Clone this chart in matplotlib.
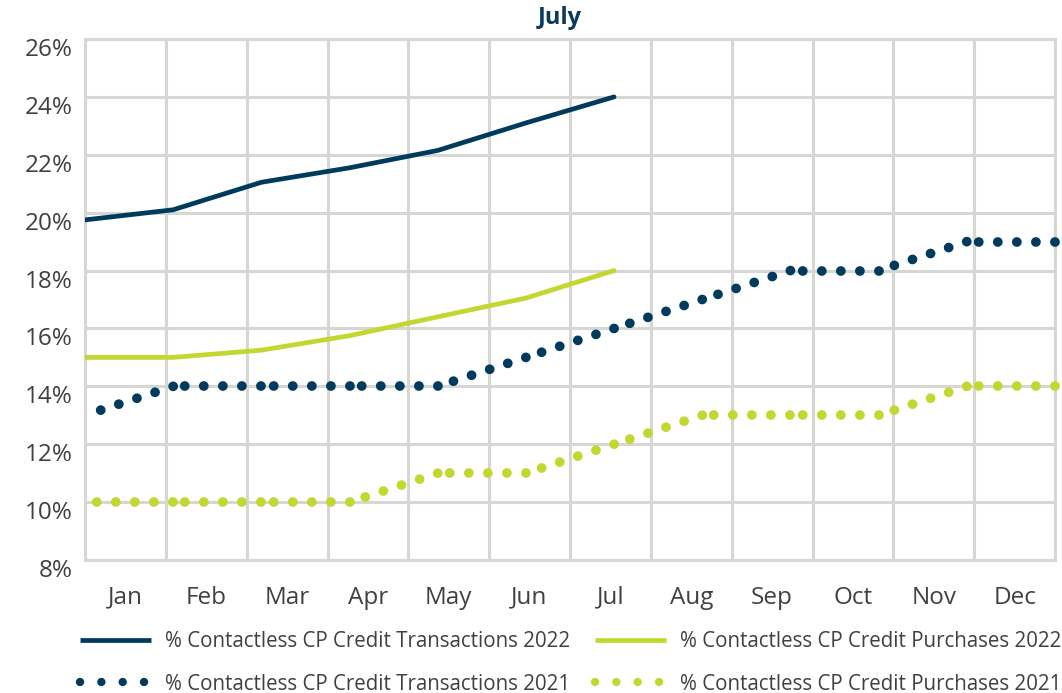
import numpy as np
import matplotlib.pyplot as plt
from matplotlib.lines import Line2D
from matplotlib import transforms

plt.rcParams['font.family'] = ['Open Sans', 'DejaVu Sans']

months = ['Jan', 'Feb', 'Mar', 'Apr', 'May', 'Jun', 'Jul', 'Aug', 'Sep', 'Oct', 'Nov', 'Dec']
trans_2022 = [19.75, 20.1, 21.05, 21.55, 22.15, 23.1, 24.0]
purch_2022 = [15.0, 15.0, 15.25, 15.75, 16.4, 17.05, 18.0]
trans_2021 = [13.0, 14.0, 14.0, 14.0, 14.0, 15.0, 16.0, 17.0, 18.0, 18.0, 19.0, 19.0]
purch_2021 = [10.0, 10.0, 10.0, 10.0, 11.0, 11.0, 12.0, 13.0, 13.0, 13.0, 14.0, 14.0]
yticks = np.arange(8, 27, 2)

navy = '#003a5d'
lime = '#c3d731'
grid_col = '#d6d6d2'
text_col = '#404040'


def xpos(vals):
    # series sit on a secondary "on tick marks" axis: 12 points over 12 categories
    return np.arange(len(vals)) * 12 / 11


def dotted(ax, vals, color):
    # excel restarts the dot pattern on each segment, ending on the point
    x = xpos(vals)
    for i in range(len(vals) - 1):
        ax.plot([x[i + 1], x[i]], [vals[i + 1], vals[i]], color=color, lw=7.0,
                linestyle=(0, (0.01, 1.95)), dash_capstyle='round',
                clip_on=False, zorder=3)


fig = plt.figure(figsize=(10.62, 6.93), dpi=100)
ax = fig.add_axes([85 / 1062, 1 - 560 / 693, 970 / 1062, 521 / 693])

ax.plot(xpos(trans_2022), trans_2022, color=navy, lw=3.4,
        solid_capstyle='round', solid_joinstyle='round', zorder=3)
ax.plot(xpos(purch_2022), purch_2022, color=lime, lw=3.4,
        solid_capstyle='round', solid_joinstyle='round', zorder=3)
dotted(ax, trans_2021, navy)
dotted(ax, purch_2021, lime)

ax.set_xlim(0, 12)
ax.set_ylim(8, 26)
ax.set_xticks(np.arange(13))
ax.set_xticklabels([])
ax.set_xticks(np.arange(12) + 0.5, minor=True)
ax.set_xticklabels(months, minor=True)
ax.set_yticks(yticks)
ax.set_yticklabels([f'{v}%' for v in yticks])
ax.tick_params(axis='both', which='both', length=0, labelsize=17.5, labelcolor=text_col)
ax.tick_params(axis='x', which='minor', pad=18.5)
ax.tick_params(axis='y', pad=9)
ax.grid(True, which='major', color=grid_col, lw=2.2)
ax.set_axisbelow(True)
for sp in ax.spines.values():
    sp.set_color(grid_col)
    sp.set_linewidth(2.2)

# excel puts the value labels a little below their gridline
shift = transforms.ScaledTranslation(0, -8 / 100, fig.dpi_scale_trans)
for lab in ax.get_yticklabels():
    lab.set_transform(lab.get_transform() + shift)

fig.text(560 / 1062, 1 - 24 / 693, 'July', ha='center', va='baseline',
         fontsize=17, fontweight='bold', color='#0b3a5c')

handles = [
    Line2D([], [], color=navy, lw=3.4, solid_capstyle='butt'),
    Line2D([], [], color=navy, lw=6.0, linestyle=(0, (0.01, 2.55)), dash_capstyle='round'),
    Line2D([], [], color=lime, lw=3.4, solid_capstyle='butt'),
    Line2D([], [], color=lime, lw=6.0, linestyle=(0, (0.01, 2.55)), dash_capstyle='round'),
]
labels = ['% Contactless CP Credit Transactions 2022',
          '% Contactless CP Credit Transactions 2021',
          '% Contactless CP Credit Purchases 2022',
          '% Contactless CP Credit Purchases 2021']
fig.legend(handles, labels, ncol=2, loc='upper left', bbox_to_anchor=(80 / 1062, 1 - 631 / 693),
           frameon=False, fontsize=14.8, labelcolor=text_col, handlelength=3.45,
           handletextpad=0.68, columnspacing=1.2, labelspacing=1.05,
           borderaxespad=0, borderpad=0)

fig.savefig('out.png', dpi=100)
